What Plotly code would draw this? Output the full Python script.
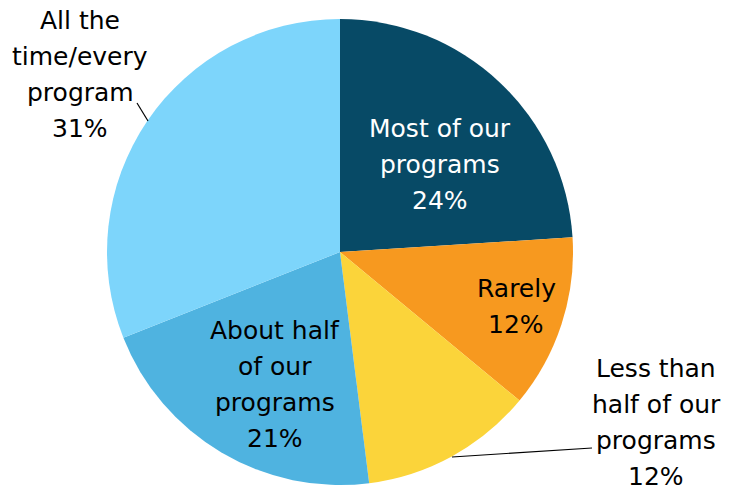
import plotly.graph_objects as go

# Survey responses: how often programs do this
categories = ["Most of our programs", "Rarely", "Less than half of our programs",
              "About half of our programs", "All the time/every program"]
shares = [24, 12, 12, 21, 31]
colors = ["#074A66", "#F7991F", "#FBD43A", "#4FB3E0", "#7DD5FB"]

# Line breaks used for each slice's label
label_lines = [["Most of our", "programs"], ["Rarely"], ["Less than", "half of our", "programs"],
               ["About half", "of our", "programs"], ["All the", "time/every", "program"]]
label_colors = ["white", "black", "black", "black", "black"]
# Label block centres in pixel space (x, y from top)
label_pos = [(440, 164), (516, 306.5), (656, 422.5), (275, 384), (80, 74)]

W, H = 736, 487
cx, cy, r = 340, 252, 233

fig = go.Figure()
fig.add_trace(go.Pie(
    labels=categories, values=shares, sort=False, direction="clockwise", rotation=0,
    marker=dict(colors=colors, line=dict(width=0)),
    textinfo="none", hoverinfo="label+percent", showlegend=False,
    domain=dict(x=[(cx - r) / W, (cx + r) / W], y=[(H - cy - r) / H, (H - cy + r) / H]),
))

font_family = "DejaVu Sans"
font_size = 25
line_gap = 36
annotations = []
for lines, val, col, (x, y) in zip(label_lines, shares, label_colors, label_pos):
    all_lines = lines + [f"{val}%"]
    n = len(all_lines)
    for i, t in enumerate(all_lines):
        yy = y + (i - (n - 1) / 2) * line_gap
        annotations.append(dict(x=x, y=yy, xref="x", yref="y", text=t, showarrow=False,
                                font=dict(family=font_family, size=font_size, color=col),
                                xanchor="center", yanchor="middle"))

# Leader lines for the outside labels
leaders = [((452, 457), (592, 448)), ((148, 121), (137, 103))]
shapes = [dict(type="line", xref="x", yref="y", x0=a[0], y0=a[1], x1=b[0], y1=b[1],
               line=dict(color="black", width=1.2)) for a, b in leaders]

fig.update_layout(
    width=W, height=H, margin=dict(l=0, r=0, t=0, b=0),
    paper_bgcolor="white", plot_bgcolor="rgba(0,0,0,0)",
    xaxis=dict(range=[0, W], visible=False, fixedrange=True),
    yaxis=dict(range=[H, 0], visible=False, fixedrange=True),
    annotations=annotations, shapes=shapes,
)
fig.write_html("out.html")
